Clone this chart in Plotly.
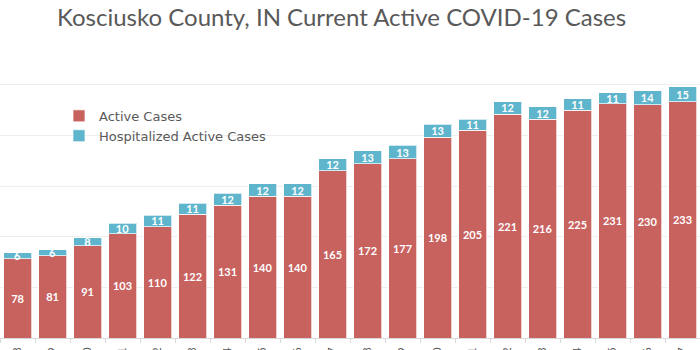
import plotly.graph_objects as go

dates = ["4/28", "4/29", "4/30", "5/1", "5/2", "5/3", "5/4", "5/5", "5/6", "5/7",
         "5/8", "5/9", "5/10", "5/11", "5/12", "5/13", "5/14", "5/15", "5/16", "5/17"]
active = [78, 81, 91, 103, 110, 122, 131, 140, 140, 165,
          172, 177, 198, 205, 221, 216, 225, 231, 230, 233]
hospitalized = [6, 6, 8, 10, 11, 11, 12, 12, 12, 12,
                13, 13, 13, 11, 12, 12, 11, 11, 14, 15]

RED = "#C8625F"
BLUE = "#5EB5CC"
FONT = "Lato, 'Open Sans', sans-serif"
LEGFONT = "'DejaVu Sans', sans-serif"

fig = go.Figure()
fig.add_trace(go.Bar(
    x=dates, y=active, name="Active Cases",
    marker=dict(color=RED, line=dict(color="rgba(255,255,255,0.7)", width=1)),
    text=active, textposition="inside", insidetextanchor="middle", textangle=0,
    textfont=dict(color="white", size=11, family=FONT, weight="bold"),
    hoverinfo="skip",
))
fig.add_trace(go.Bar(
    x=dates, y=hospitalized, name="Hospitalized Active Cases",
    marker=dict(color=BLUE, line=dict(color="rgba(255,255,255,0.7)", width=1)),
    text=hospitalized, textposition="inside", insidetextanchor="middle", textangle=0,
    textfont=dict(color="white", size=11, family=FONT, weight="bold"),
    hoverinfo="skip",
))

fig.update_layout(
    width=700, height=350,
    barmode="stack", bargap=0.2,
    margin=dict(l=0, r=0, t=34, b=12),
    paper_bgcolor="white", plot_bgcolor="white",
    font=dict(family=FONT, color="#595959"),
    title=dict(text="Kosciusko County, IN Current Active COVID-19 Cases",
               x=57 / 700, xanchor="left", y=1 - 18 / 350, yanchor="middle",
               font=dict(size=24, color="#595959", family=FONT)),
    uniformtext=dict(minsize=11, mode="show"),
    legend=dict(x=59 / 700, y=1 - 77 / 350, xanchor="left", yanchor="top",
                bgcolor="rgba(0,0,0,0)", font=dict(size=13, color="#595959", family=LEGFONT),
                traceorder="normal"),
    showlegend=True,
)
fig.update_xaxes(showline=True, linecolor="#D9D9D9", linewidth=1,
                 ticks="outside", tickson="boundaries", ticklen=4, tickcolor="#D9D9D9",
                 tickangle=-90, tickfont=dict(size=11, color="#595959"),
                 ticklabelstandoff=4,
                 automargin=False, showgrid=False)
fig.update_yaxes(range=[0, 300], dtick=50, showgrid=True, gridcolor="#EEEEEE",
                 showticklabels=False, zeroline=False, automargin=False)

fig.write_html("out.html")
